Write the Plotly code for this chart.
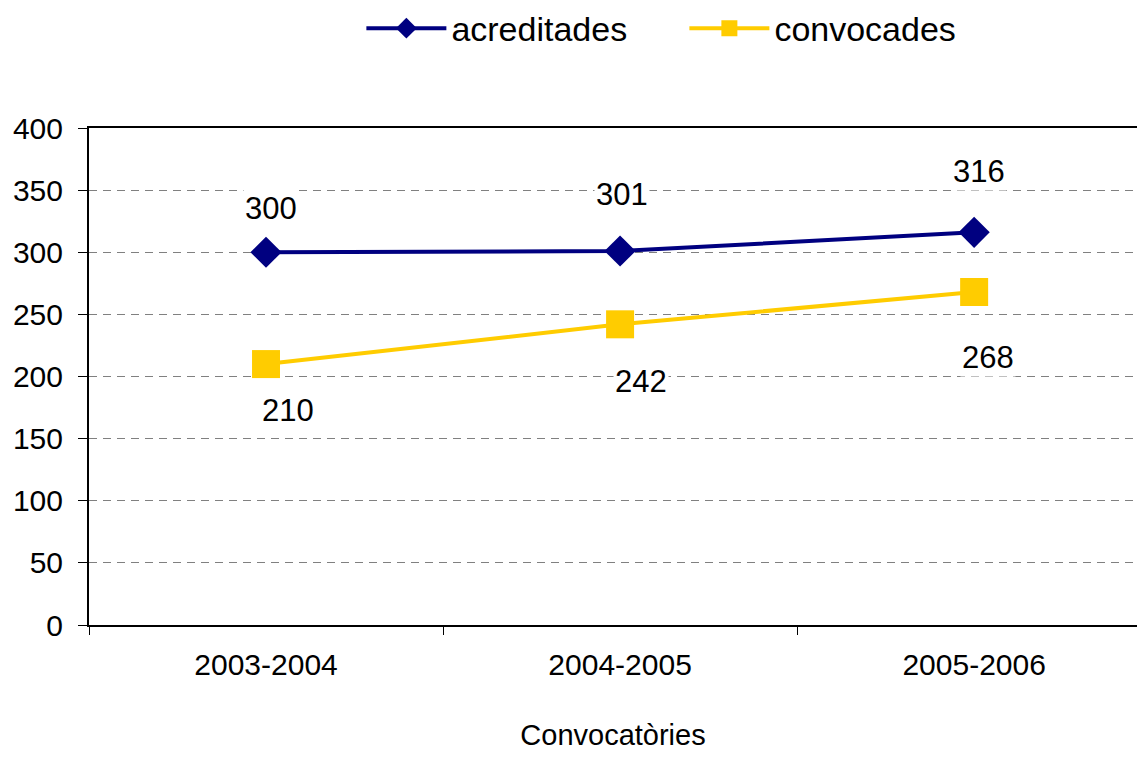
import plotly.graph_objects as go

categories = ["2003-2004", "2004-2005", "2005-2006"]
acreditades = [300, 301, 316]
convocades = [210, 242, 268]
y_ticks = [0, 50, 100, 150, 200, 250, 300, 350, 400]

# pixel offsets for the data labels (style only)
acred_offsets = [(5, 44), (2, 57), (5, 61)]
conv_offsets = [(22, -46), (21, -57), (14, -65)]

FONT = "Liberation Sans, Arial, sans-serif"
BLUE = "#000080"
YELLOW = "#FFCC00"

fig = go.Figure()
fig.add_trace(go.Scatter(
    x=categories, y=acreditades, name="acreditades", mode="lines+markers",
    line=dict(color=BLUE, width=4),
    marker=dict(symbol="diamond", size=24, color=BLUE),
))
fig.add_trace(go.Scatter(
    x=categories, y=convocades, name="convocades", mode="lines+markers",
    line=dict(color=YELLOW, width=4),
    marker=dict(symbol="square", size=28, color=YELLOW),
))

annotations = []
for cat, v, (dx, dy) in zip(categories, acreditades, acred_offsets):
    annotations.append(dict(x=cat, y=v, xref="x", yref="y", text=str(v),
                            showarrow=False, xshift=dx, yshift=dy,
                            bgcolor="white",
                            font=dict(family=FONT, size=31, color="black")))
for cat, v, (dx, dy) in zip(categories, convocades, conv_offsets):
    annotations.append(dict(x=cat, y=v, xref="x", yref="y", text=str(v),
                            showarrow=False, xshift=dx, yshift=dy,
                            bgcolor="white",
                            font=dict(family=FONT, size=31, color="black")))

fig.update_layout(
    width=1129, height=743,
    margin=dict(l=81, r=0, t=120, b=126, autoexpand=False),
    paper_bgcolor="white", plot_bgcolor="white",
    font=dict(family=FONT, color="black"),
    showlegend=True,
    legend=dict(orientation="h", x=0.2599, xanchor="left", y=1.2, yanchor="middle",
                font=dict(family=FONT, size=34, color="black"),
                bgcolor="rgba(0,0,0,0)", itemwidth=80,
                entrywidth=228, entrywidthmode="pixels"),
    annotations=annotations,
    xaxis=dict(
        type="category", range=[-0.5, 2.46], automargin=False,
        showline=True, linecolor="black", linewidth=2, mirror=True,
        ticks="outside", tickson="boundaries", ticklen=8, tickcolor="black", tickwidth=1,
        showgrid=False,
        tickfont=dict(family=FONT, size=30, color="black"),
        ticklabelstandoff=12,
        title=dict(text="Convocatòries", font=dict(family=FONT, size=29, color="black"), standoff=57),
    ),
    yaxis=dict(
        range=[0, 400], tickvals=y_ticks, automargin=False,
        showline=True, linecolor="black", linewidth=2, mirror=False,
        ticks="outside", ticklen=9, tickcolor="black", tickwidth=1,
        showgrid=True, gridcolor="#808080", gridwidth=1, griddash="8px,6px",
        zeroline=False,
        tickfont=dict(family=FONT, size=30, color="black"),
        ticklabelstandoff=9,
    ),
)

fig.write_html("out.html")
